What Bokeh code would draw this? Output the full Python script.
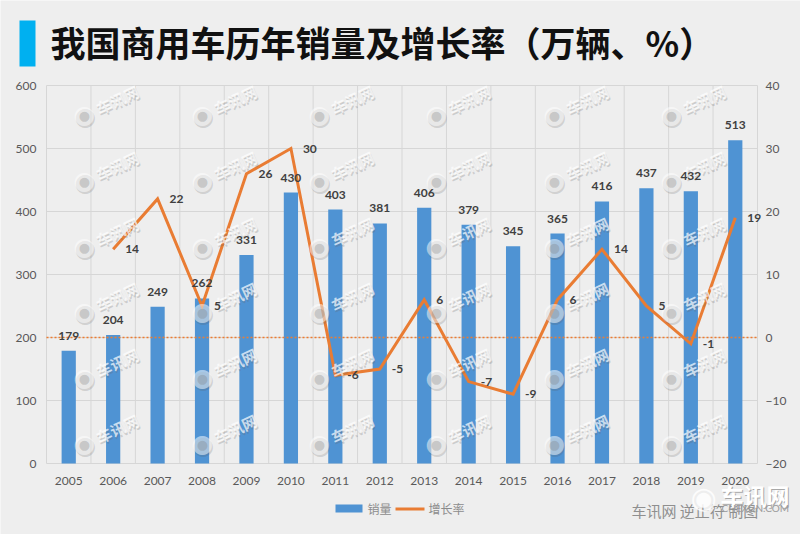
from bokeh.core.properties import value
from bokeh.plotting import figure
from bokeh.models import ColumnDataSource, LinearAxis, Range1d, FixedTicker, LabelSet, Label, BoxAnnotation
from bokeh.embed import file_html
from bokeh.resources import INLINE

years = ['2005', '2006', '2007', '2008', '2009', '2010', '2011', '2012',
         '2013', '2014', '2015', '2016', '2017', '2018', '2019', '2020']
sales = [179, 204, 249, 262, 331, 430, 403, 381, 406, 379, 345, 365, 416, 437, 432, 513]
growth_years = years[1:]
growth = [14, 22, 5, 26, 30, -6, -5, 6, -7, -9, 6, 14, 5, -1, 19]
sales_ticks = [0, 100, 200, 300, 400, 500, 600]
growth_ticks = [-20, -10, 0, 10, 20, 30, 40]

title_text = '我国商用车历年销量及增长率（万辆、%）'
credit_text = '车讯网 逆止符 制图'
mark_text = '车讯网'
site_text = 'CHEXUN.COM'
mark_xs = [85, 203, 320, 437, 555, 672]
mark_ys = [117, 183, 249, 314, 380, 446]

CJK = 'Noto Sans CJK SC'
NUM = 'Lato'
BG = '#eeeeee'
GRID = '#d6d6d6'
BAR = '#4f93d3'
LINE = '#e97c33'
W, H = 800, 534
# plot box on the page; the frame fills the whole page because annotations get clipped to it
LEFT, RIGHT, TOP, BOTTOM = 46, 757, 85, 463


def note(px, py, text, **kw):
    kw.setdefault('text_baseline', 'middle')
    p.add_layout(Label(x=px, y=H - py, x_units='screen', y_units='screen', text=text, **kw))


def block(x0, x1, y0, y1, color):
    p.add_layout(BoxAnnotation(left=x0, right=x1, top=H - y0, bottom=H - y1,
                               left_units='screen', right_units='screen', top_units='screen', bottom_units='screen',
                               fill_color=color, fill_alpha=1, line_color=None, level='annotation'))


x_step = (RIGHT - LEFT) / len(years)
x0, x1 = -0.5, len(years) - 0.5
x_range = Range1d(x0 - LEFT / x_step, x1 + (W - RIGHT) / x_step)
k_sales = 600 / (BOTTOM - TOP)
k_growth = 60 / (BOTTOM - TOP)

p = figure(x_range=x_range, y_range=Range1d(-(H - BOTTOM) * k_sales, 600 + TOP * k_sales), width=W, height=H,
           output_backend='svg', toolbar_location=None, x_axis_type=None, y_axis_type=None,
           min_border=0, background_fill_color=BG, border_fill_color=BG, outline_line_color=None)
p.extra_y_ranges = {'growth': Range1d(-20 - (H - BOTTOM) * k_growth, 40 + TOP * k_growth)}

x_pos = list(range(len(years)))
bottom_axis = LinearAxis(fixed_location=0, ticker=FixedTicker(ticks=x_pos),
                         major_label_overrides=dict(zip(x_pos, years)))
left_axis = LinearAxis(fixed_location=x0, ticker=FixedTicker(ticks=sales_ticks))
right_axis = LinearAxis(fixed_location=x1, y_range_name='growth', ticker=FixedTicker(ticks=growth_ticks))
p.add_layout(bottom_axis, 'below')
p.add_layout(left_axis, 'left')
p.add_layout(right_axis, 'right')

for ax in [left_axis, right_axis, bottom_axis]:
    ax.axis_line_color = None
    ax.major_tick_line_color = None
    ax.minor_tick_line_color = None
    ax.major_label_text_color = '#595959'
    ax.major_label_text_font = NUM
    ax.major_label_text_font_size = '12px'
left_axis.major_label_standoff = 4
right_axis.major_label_standoff = 2
bottom_axis.major_label_standoff = 7

# grid lines stop at the plot box, Grid would run them across the whole frame
p.segment(x0=x0, x1=x1, y0=sales_ticks, y1=sales_ticks, line_color=GRID, line_width=1)
edges = [i - 0.5 for i in range(len(years) + 1)]
p.segment(x0=edges, x1=edges, y0=0, y1=600, line_color=GRID, line_width=1)

src = ColumnDataSource(dict(x=x_pos, sales=sales, label=[str(v) for v in sales]))
gsrc = ColumnDataSource(dict(x=x_pos[1:], growth=growth, label=[str(v) for v in growth]))

p.vbar(x='x', top='sales', width=0.32, source=src, fill_color=BAR, line_color=None)
p.line(x=[x0, x1], y=[0, 0], y_range_name='growth', line_color='#ed7d31', line_width=1.5, line_dash=[2, 2])
p.line(x='x', y='growth', source=gsrc, y_range_name='growth', line_color=LINE, line_width=3, line_join='miter')

# watermark grid
for mx in mark_xs:
    for my in mark_ys:
        dot = dict(text='●', text_font='DejaVu Sans', text_align='center')
        note(mx, my - 1, text_font_size='25px', text_color='#555555', text_alpha=0.2, **dot)
        note(mx - 1, my - 3, text_font_size='25px', text_color='#ffffff', text_alpha=0.5, **dot)
        note(mx - 1, my - 2, text_font_size='13px', text_color='#777777', text_alpha=0.3, **dot)
        word = dict(text=mark_text, text_font=CJK, text_font_size='15px', text_font_style='bold',
                    angle=25, angle_units='deg', text_align='center')
        note(mx + 33, my - 16, text_color='#666666', text_alpha=0.25, **word)
        note(mx + 32, my - 18, text_color='#ffffff', text_alpha=0.7, **word)

p.add_layout(LabelSet(x='x', y='sales', text='label', source=src, y_offset=15,
                      text_font=value(NUM), text_font_size='12px', text_font_style='bold', text_color='#404040',
                      text_align='center', text_baseline='middle'))
p.add_layout(LabelSet(x='x', y='growth', text='label', source=gsrc, y_range_name='growth', x_offset=12,
                      text_font=value(NUM), text_font_size='12px', text_font_style='bold', text_color='#404040',
                      text_align='left', text_baseline='middle'))

# header
block(19, 35, 20, 66, '#00b0f0')
note(50, 41, title_text, text_font=CJK, text_font_size='35px', text_font_style='bold', text_color='#111111')

# legend
block(335, 362, 504, 512, BAR)
note(367, 508, '销量', text_font=CJK, text_font_size='12px', text_color='#8c8c8c')
block(395, 424, 507, 510, LINE)
note(428, 508, '增长率', text_font=CJK, text_font_size='12px', text_color='#8c8c8c')

# credit and logo, bottom right
note(631, 510, credit_text, text_font=CJK, text_font_size='15px', text_color='#8f8f8f')
note(703, 497, '◉', text_font='DejaVu Sans', text_font_size='30px', text_color='#ffffff', text_alpha=0.85,
     text_align='center')
note(721, 495, mark_text, text_font=CJK, text_font_size='23px', text_font_style='bold', text_color='#a8a8a8')
note(720, 494, mark_text, text_font=CJK, text_font_size='23px', text_font_style='bold', text_color='#ffffff')
note(721, 507, site_text, text_font=NUM, text_font_size='10px', text_color='#9a9a9a')

open('out.html', 'w').write(file_html(p, INLINE))
